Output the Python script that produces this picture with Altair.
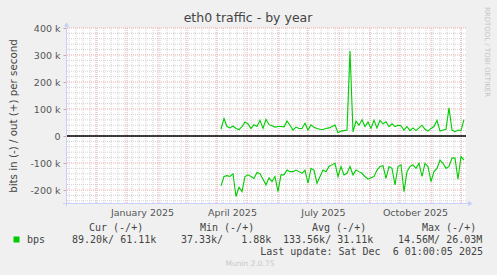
import altair as alt
import pandas as pd

# ---------------- data ----------------
X_START = (2024, 11, 1)
X_END = (2025, 12, 6)
SERIES_START = "2025-04-05"
STEP = "3D"

# outbound traffic (+), kbit/s
out_k = [25, 65, 35, 30, 37, 28, 24, 35, 52, 45,
         28, 42, 35, 58, 28, 62, 42, 38, 33, 35,
         35, 34, 55, 40, 22, 33, 28, 28, 47, 22,
         41, 32, 28, 25, 24, 28, 30, 35, 41, 12,
         18, 20, 22, 315, 15, 55, 40, 60, 35, 52,
         28, 58, 30, 58, 45, 53, 35, 45, 35, 40,
         38, 22, 35, 20, 30, 20, 30, 40, 25, 18,
         28, 35, 58, 18, 22, 25, 104, 22, 16, 22,
         20, 61]

# inbound traffic (-), kbit/s
in_k = [-185, -150, -147, -150, -140, -224, -190, -206, -150, -144,
        -150, -157, -135, -140, -160, -181, -155, -169, -150, -206,
        -144, -144, -126, -132, -132, -126, -132, -138, -126, -175,
        -120, -126, -175, -150, -126, -132, -113, -107, -101, -150,
        -113, -144, -138, -113, -144, -126, -132, -138, -150, -160,
        -155, -150, -126, -113, -110, -157, -113, -120, -181, -113,
        -107, -206, -132, -113, -107, -120, -101, -150, -101, -113,
        -169, -132, -120, -89, -101, -120, -113, -82, -82, -160,
        -76, -89]

y_major = [-200, -100, 0, 100, 200, 300, 400]
y_minor = [v for v in range(-240, 400, 20) if v % 100 != 0]
month_starts = [d.strftime("%Y-%m-%d") for d in pd.date_range("2024-12-01", "2025-12-01", freq="MS")]
week_starts = [d.strftime("%Y-%m-%d") for d in pd.date_range("2024-11-04", "2025-12-05", freq="7D")]
label_dates = [(2025, 1, 16), (2025, 4, 16), (2025, 7, 16), (2025, 10, 16)]

title_text = "eth0 traffic - by year"
y_title = "bits in (-) / out (+) per second"
side_text = "RRDTOOL / TOBI OETIKER"
legend_headers = ["Cur (-/+)", "Min (-/+)", "Avg (-/+)", "Max (-/+)"]
legend_name = "bps"
legend_values = ["89.20k/ 61.11k", "37.33k/   1.88k", "133.56k/ 31.11k", "14.56M/ 26.03M"]
last_update = "Last update: Sat Dec  6 01:00:05 2025"
footer = "Munin 2.0.75"

GREEN = "#00CC00"
W, H = 400, 175.5

# ---------------- build ----------------
dates = [d.strftime("%Y-%m-%d") for d in pd.date_range(SERIES_START, periods=len(out_k), freq=STEP)]
lines_df = pd.DataFrame({
    "date": dates * 2,
    "value": out_k + in_k,
    "series": ["out"] * len(out_k) + ["in"] * len(in_k),
})

def dt(t):
    return alt.DateTime(year=t[0], month=t[1], date=t[2], utc=True)

xscale = alt.Scale(type="utc", domain=[dt(X_START), dt(X_END)])
yscale = alt.Scale(domain=[-250, 400], nice=False, zero=False)

x_axis = alt.Axis(values=[dt(t) for t in label_dates],
                  labelExpr="utcFormat(datum.value, '%B %Y')",
                  ticks=False, domain=False, grid=False, labelFont="DejaVu Sans",
                  labelFontSize=9.5, labelColor="#555555", labelPadding=4, title=None)
y_axis = alt.Axis(values=y_major, labelExpr="datum.value == 0 ? '0' : datum.value + ' k'",
                  ticks=True, tickSize=3, tickColor="#d9a0a0", domain=False, grid=False,
                  labelFont="DejaVu Sans", labelFontSize=9.5, labelColor="#555555",
                  labelPadding=3, title=None)

ONE = pd.DataFrame({"a": [0]})

def vrules(vals, color):
    return alt.Chart(pd.DataFrame({"d": vals})).mark_rule(
        color=color, strokeWidth=1, strokeDash=[1, 1]).encode(
        x=alt.X("d:T", scale=xscale, axis=x_axis))

def hrules(vals, color):
    return alt.Chart(pd.DataFrame({"v": vals})).mark_rule(
        color=color, strokeWidth=1, strokeDash=[1, 1]).encode(
        y=alt.Y("v:Q", scale=yscale, axis=y_axis))

def label(text, x, y, size=10, color="#444444", font="DejaVu Sans Mono",
          align="left", angle=0):
    return alt.Chart(ONE).mark_text(
        text=text.replace(" ", "\u00a0"), align=align, baseline="middle",
        font=font, fontSize=size, color=color, angle=angle).encode(
        x=alt.value(x), y=alt.value(y))

GRID_MINOR = "#d2d2d2"
GRID_MAJOR = "#eeaaaa"
AXIS_BLUE = "#c8d0fa"

zero = alt.Chart(pd.DataFrame({"v": [0]})).mark_rule(color="#000000", strokeWidth=1.3).encode(
    y=alt.Y("v:Q", scale=yscale, axis=y_axis))

lines = alt.Chart(lines_df).mark_line(color=GREEN, strokeWidth=1.1).encode(
    x=alt.X("date:T", scale=xscale, axis=x_axis),
    y=alt.Y("value:Q", scale=yscale, axis=y_axis),
    detail="series:N",
)

bottom_axis = alt.Chart(ONE).mark_rule(color=AXIS_BLUE, strokeWidth=1).encode(
    x=alt.value(-3), x2=alt.value(W + 3), y=alt.value(H))
left_axis = alt.Chart(ONE).mark_rule(color=AXIS_BLUE, strokeWidth=1).encode(
    x=alt.value(0.5), y=alt.value(H + 3), y2=alt.value(-3))
arrow_r = alt.Chart(ONE).mark_point(shape="triangle-right", filled=True, color=AXIS_BLUE,
                                    size=30, opacity=1).encode(x=alt.value(W + 4.5), y=alt.value(H))
arrow_u = alt.Chart(ONE).mark_point(shape="triangle-up", filled=True, color=AXIS_BLUE,
                                    size=30, opacity=1).encode(x=alt.value(0.5), y=alt.value(-3.5))

texts = [
    label(title_text, 182, -10, size=12.5, color="#444444", font="DejaVu Sans", align="center"),
    label(y_title, -52, 88, size=10.3, color="#444444", font="DejaVu Sans", align="center", angle=270),
    label(side_text, 421, 24, size=7, color="#c4c4c4", font="DejaVu Sans", align="center", angle=90),
    label(legend_headers[0], 23, 200),
    label(legend_headers[1], 134, 200),
    label(legend_headers[2], 246, 200),
    label(legend_headers[3], 356, 200),
    label(legend_name, -39, 212),
    label(legend_values[0], 6, 212),
    label(legend_values[1], 115, 212),
    label(legend_values[2], 217, 212),
    label(legend_values[3], 332, 212),
    label(last_update, 417, 224, align="right"),
    label(footer, 184, 236, size=7.5, color="#c8c8c8", font="DejaVu Sans", align="center"),
]
square = alt.Chart(ONE).mark_square(color=GREEN, size=36, opacity=1).encode(
    x=alt.value(-49.5), y=alt.value(211.5))

chart = alt.layer(
    hrules(y_minor, GRID_MINOR),
    vrules(week_starts, GRID_MINOR),
    hrules(y_major, GRID_MAJOR),
    vrules(month_starts, GRID_MAJOR),
    zero,
    lines,
    bottom_axis, left_axis, arrow_r, arrow_u,
    square,
    *texts,
).properties(
    width=W, height=H,
    padding={"left": 66, "top": 28, "right": 31, "bottom": 71.5},
    autosize=alt.AutoSizeParams(type="none"),
    background="#F0F0F0",
).configure_view(fill="#FFFFFF", stroke=None)

chart.save("out.html", embed_options={"renderer": "svg", "actions": False})
